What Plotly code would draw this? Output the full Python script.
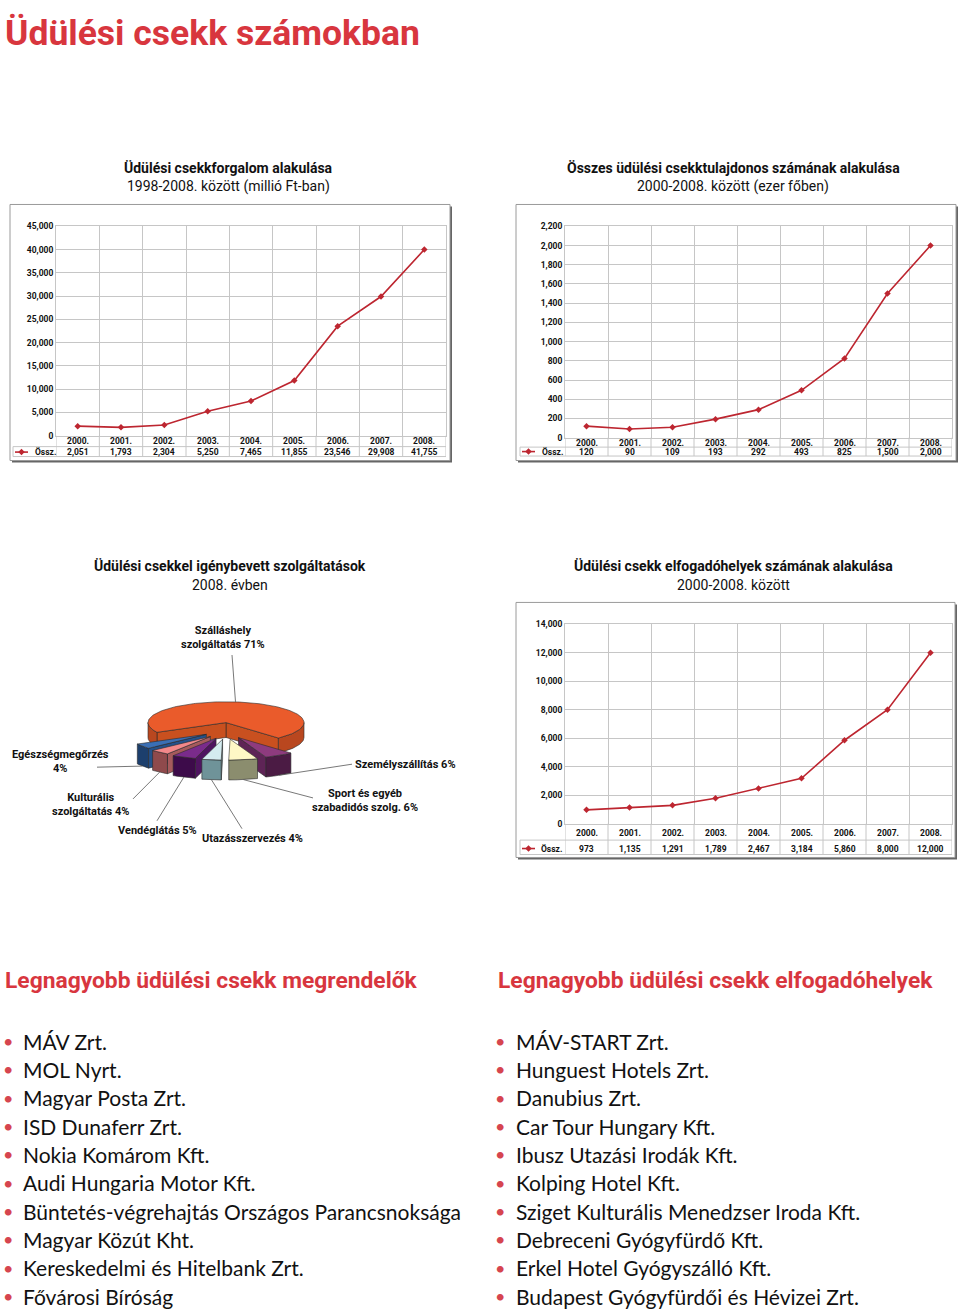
import math
import plotly.graph_objects as go

# ---------------- data ----------------
years = [2000, 2001, 2002, 2003, 2004, 2005, 2006, 2007, 2008]
year_labels = [f"{y}." for y in years]

# Üdülési csekkforgalom (millió Ft) - plotted points and printed table values
turnover_plotted = [2051, 1793, 2304, 5250, 7465, 11855, 23546, 29908, 40000]
turnover_table = [2051, 1793, 2304, 5250, 7465, 11855, 23546, 29908, 41755]

# Összes üdülési csekktulajdonos (ezer fő)
holders = [120, 90, 109, 193, 292, 493, 825, 1500, 2000]

# Elfogadóhelyek száma
acceptors = [973, 1135, 1291, 1789, 2467, 3184, 5860, 8000, 12000]

# Igénybevett szolgáltatások 2008 (%)
service_names = ["Egészségmegőrzés", "Kulturális szolgáltatás", "Vendéglátás",
                 "Utazásszervezés", "Sport és egyéb szabadidós szolg.",
                 "Személyszállítás", "Szálláshely szolgáltatás"]
service_pct = [4, 4, 5, 4, 6, 6, 71]
service_label_prefix = ["Egészségmegőrzés<br>", "Kulturális<br>szolgáltatás ", "Vendéglátás ",
                        "Utazásszervezés ", "Sport és egyéb<br>szabadidós szolg. ",
                        "Személyszállítás ", "Szálláshely<br>szolgáltatás "]

orderers = ["MÁV Zrt.", "MOL Nyrt.", "Magyar Posta Zrt.", "ISD Dunaferr Zrt.",
            "Nokia Komárom Kft.", "Audi Hungaria Motor Kft.",
            "Büntetés-végrehajtás Országos Parancsnoksága", "Magyar Közút Kht.",
            "Kereskedelmi és Hitelbank Zrt.", "Fővárosi Bíróság"]
accepting_places = ["MÁV-START Zrt.", "Hunguest Hotels Zrt.", "Danubius Zrt.",
                    "Car Tour Hungary Kft.", "Ibusz Utazási Irodák Kft.", "Kolping Hotel Kft.",
                    "Sziget Kulturális Menedzser Iroda Kft.", "Debreceni Gyógyfürdő Kft.",
                    "Erkel Hotel Gyógyszálló Kft.", "Budapest Gyógyfürdői és Hévizei Zrt."]

# ---------------- style ----------------
W, HP = 960, 1316
COND = 'Roboto, "Liberation Sans", sans-serif'
LIST_FONT = 'Lato, "Open Sans", sans-serif'
RED = "#D8363E"
LINE_RED = "#BD2630"
GRID = "#C6C6C6"
TXT = "#111111"


def fx(p):
    return p / W


def fy(p):
    return 1 - p / HP


fig = go.Figure()
annotations = []
shapes = []

# ---------------- line charts ----------------
charts = [
    dict(n="", values=turnover_plotted, table=turnover_table, ymax=45000, dtick=5000,
         box=(10, 201, 450, 459), plot=(56, 223, 446, 434), rows=(439.5, 445, 450.5, 455),
         legend=(13, 15, 28, 33),
         title="Üdülési csekkforgalom alakulása", sub="1998-2008. között (millió Ft-ban)",
         tx=228, ty=(164, 183)),
    dict(n="2", values=holders, table=holders, ymax=2200, dtick=200,
         box=(516, 201, 956, 459), plot=(565, 223, 952, 436), rows=(441, 445.5, 450, 454.5),
         legend=(520, 522, 535, 540),
         title="Összes üdülési csekktulajdonos számának alakulása", sub="2000-2008. között (ezer főben)",
         tx=733, ty=(164, 183)),
    dict(n="3", values=acceptors, table=acceptors, ymax=14000, dtick=2000,
         box=(516, 602, 955, 859), plot=(565, 624, 952, 825), rows=(834, 841.5, 850, 856),
         legend=(520, 522, 535, 539),
         title="Üdülési csekk elfogadóhelyek számának alakulása", sub="2000-2008. között",
         tx=733, ty=(565, 584)),
]

SMALL = dict(family=COND, size=8.5, color=TXT, weight="bold")

layout_axes = {}
for c in charts:
    n = c["n"]
    x0, y0, x1, y1 = c["plot"]
    bx0, by0, bx1, by1 = c["box"]
    # shadow + box
    shapes.append(dict(type="rect", xref="paper", yref="paper", x0=fx(bx0 + 2), x1=fx(bx1 + 2),
                       y0=fy(by1 + 2), y1=fy(by0 + 2), fillcolor="#666666", line=dict(width=0),
                       layer="below"))
    shapes.append(dict(type="rect", xref="paper", yref="paper", x0=fx(bx0), x1=fx(bx1),
                       y0=fy(by1), y1=fy(by0), fillcolor="white", line=dict(color="#9A9A9A", width=1),
                       layer="below"))
    fig.add_trace(go.Scatter(x=year_labels, y=c["values"], mode="lines+markers",
                             line=dict(color=LINE_RED, width=1.6),
                             marker=dict(symbol="diamond", size=5, color=LINE_RED),
                             xaxis="x" + n, yaxis="y" + n, hoverinfo="skip"))
    layout_axes["xaxis" + n] = dict(domain=[fx(x0), fx(x1)], type="category", range=[-0.5, 8.5],
                                    tickson="boundaries", showgrid=True, gridcolor=GRID, gridwidth=1,
                                    showticklabels=False, ticks="", showline=True, mirror=True,
                                    linecolor=GRID, zeroline=False, anchor="y" + n, fixedrange=True)
    layout_axes["yaxis" + n] = dict(domain=[fy(y1), fy(y0)], range=[0, c["ymax"]], dtick=c["dtick"],
                                    tickformat=",", showgrid=True, gridcolor=GRID, gridwidth=1,
                                    showline=True, mirror=True, linecolor=GRID, zeroline=False,
                                    ticks="", anchor="x" + n, fixedrange=True, tickfont=SMALL)
    r_year, r_sep, r_val, r_bot = c["rows"]
    # table lines
    for k in range(10):
        shapes.append(dict(type="line", xref="x" + n, yref="paper", x0=k - 0.5, x1=k - 0.5,
                           y0=fy(y1), y1=fy(r_bot), line=dict(color=GRID, width=1)))
    lx, l0, l1, ltx = c["legend"]
    for yy in (r_sep, r_bot):
        shapes.append(dict(type="line", xref="paper", yref="paper", x0=fx(lx), x1=fx(x1),
                           y0=fy(yy), y1=fy(yy), line=dict(color=GRID, width=1)))
    shapes.append(dict(type="line", xref="paper", yref="paper", x0=fx(lx), x1=fx(lx),
                       y0=fy(r_sep), y1=fy(r_bot), line=dict(color=GRID, width=1)))
    # table text (column centres follow the category slots of the axis domain)
    ncat = len(year_labels)
    for k, (lab, v) in enumerate(zip(year_labels, c["table"])):
        xc = x0 + (k + 0.5) * (x1 - x0) / ncat
        annotations.append(dict(x=fx(xc), y=fy(r_year), xref="paper", yref="paper", text=lab,
                                showarrow=False, font=SMALL, xanchor="center", yanchor="middle"))
        annotations.append(dict(x=fx(xc), y=fy(r_val), xref="paper", yref="paper", text=f"{v:,}",
                                showarrow=False, font=SMALL, xanchor="center", yanchor="middle"))
    # legend cell
    fig.add_trace(go.Scatter(x=[l0, (l0 + l1) / 2, l1], y=[-r_val] * 3, mode="lines",
                             line=dict(color=LINE_RED, width=1.6), xaxis="x4", yaxis="y4",
                             hoverinfo="skip"))
    fig.add_trace(go.Scatter(x=[(l0 + l1) / 2], y=[-r_val], mode="markers",
                             marker=dict(symbol="diamond", size=5, color=LINE_RED), xaxis="x4", yaxis="y4",
                             hoverinfo="skip"))
    annotations.append(dict(x=fx(ltx), y=fy(r_val), xref="paper", yref="paper", text="Össz.",
                            showarrow=False, font=SMALL, xanchor="left", yanchor="middle"))
    # titles
    annotations.append(dict(x=fx(c["tx"]), y=fy(c["ty"][0]), xref="paper", yref="paper", text=c["title"],
                            showarrow=False, font=dict(family=COND, size=14, color=TXT, weight="bold"),
                            xanchor="center", yanchor="middle"))
    annotations.append(dict(x=fx(c["tx"]), y=fy(c["ty"][1]), xref="paper", yref="paper", text=c["sub"],
                            showarrow=False, font=dict(family=COND, size=14, color=TXT),
                            xanchor="center", yanchor="middle"))

# ---------------- pseudo-3D pie (pixel coordinate overlay axis) ----------------
PIE_CX, PIE_CY, PIE_A, PIE_B = 226, 728, 78, 21
PIE_START = 207.8
EXPLODE_SMALL = (24, 12)
EXPLODE_BIG = (0, 5)
WALL_SMALL, WALL_BIG = 20, 15
top_colors = ["#3A6FB5", "#F2888A", "#7A2B8B", "#D4ECF0", "#FFF8C6", "#8E3B7E", "#EA5B2B"]
wall_colors = ["#1C3F6D", "#8F4A4C", "#3D0B4A", "#6F9399", "#8B8D6E", "#4B1B44", "#B9471F"]
cut_colors = ["#24518A", "#A65A5C", "#4F1460", "#86A9AE", "#A3A483", "#5E2456", "#C9501F"]
OUTLINE = dict(color="#2A2A2A", width=0.6)


def ell(t_deg, ox, oy, dy=0.0):
    t = math.radians(t_deg)
    return (PIE_CX + ox + PIE_A * math.cos(t), PIE_CY + oy - PIE_B * math.sin(t) + dy)


def arc(t0, t1, ox, oy, dy=0.0):
    n = max(2, int(abs(t1 - t0) / 1.5) + 1)
    return [ell(t0 + (t1 - t0) * k / (n - 1), ox, oy, dy) for k in range(n)]


def poly(pts, color):
    xs = [p[0] for p in pts] + [pts[0][0]]
    ys = [-p[1] for p in pts] + [-pts[0][1]]
    fig.add_trace(go.Scatter(x=xs, y=ys, mode="lines", fill="toself", fillcolor=color,
                             line=OUTLINE, xaxis="x4", yaxis="y4", hoverinfo="skip"))


total = sum(service_pct)
big_idx = service_pct.index(max(service_pct))
geo = []
cum = 0
for i, p in enumerate(service_pct):
    t0 = PIE_START + cum / total * 360
    t1 = t0 + p / total * 360
    cum += p
    mid = (t0 + t1) / 2
    ex, ey = EXPLODE_BIG if i == big_idx else EXPLODE_SMALL
    ox = ex * math.cos(math.radians(mid))
    oy = -ey * math.sin(math.radians(mid))
    hh = WALL_BIG if i == big_idx else WALL_SMALL
    geo.append((i, t0, t1, mid, ox, oy, hh))

order = [g for g in geo if g[0] == big_idx] + sorted(
    [g for g in geo if g[0] != big_idx], key=lambda g: -abs(math.cos(math.radians(g[3]))))

for i, t0, t1, mid, ox, oy, hh in order:
    apex = (PIE_CX + ox, PIE_CY + oy)
    apex_b = (apex[0], apex[1] + hh)
    if math.cos(math.radians(t0)) > 0:
        e = ell(t0, ox, oy)
        poly([apex, e, (e[0], e[1] + hh), apex_b], cut_colors[i])
    if math.cos(math.radians(t1)) < 0:
        e = ell(t1, ox, oy)
        poly([apex, e, (e[0], e[1] + hh), apex_b], cut_colors[i])
    for k in range(0, 3):
        f0, f1 = 180 + 360 * k, 360 + 360 * k
        a0, a1 = max(t0, f0), min(t1, f1)
        if a1 > a0:
            top = arc(a0, a1, ox, oy)
            bot = arc(a1, a0, ox, oy, hh)
            poly(top + bot, wall_colors[i])
    poly([apex] + arc(t0, t1, ox, oy), top_colors[i])

# labels and leader lines (label positions in px)
label_pos = [(60, 762, "center"), (90, 806, "center"), (157, 832, "center"), (252, 840, "center"),
             (365, 802, "center"), (353, 765, "left"), (223, 637, "center")]
leader_end = [(97, 768), (133, 800), (157, 822), (242, 830), (313, 799), (352, 765), (232, 655)]
for i, t0, t1, mid, ox, oy, hh in geo:
    if i == big_idx:
        ax_, ay_ = ell(mid + 3, ox, oy)
    else:
        ax_, ay_ = ell(mid, ox, oy, hh)
    lx_, ly_ = leader_end[i]
    fig.add_trace(go.Scatter(x=[ax_, lx_], y=[-ay_, -ly_], mode="lines",
                             line=dict(color="#555555", width=0.8), xaxis="x4", yaxis="y4",
                             hoverinfo="skip"))
    px_, py_, anc = label_pos[i]
    annotations.append(dict(x=fx(px_), y=fy(py_), xref="paper", yref="paper",
                            text=f"{service_label_prefix[i]}{service_pct[i]}%", showarrow=False,
                            align="center", xanchor=anc, yanchor="middle",
                            font=dict(family=COND, size=11, color=TXT, weight="bold")))

annotations.append(dict(x=fx(230), y=fy(565), xref="paper", yref="paper",
                        text="Üdülési csekkel igénybevett szolgáltatások", showarrow=False,
                        font=dict(family=COND, size=14, color=TXT, weight="bold"),
                        xanchor="center", yanchor="middle"))
annotations.append(dict(x=fx(230), y=fy(584), xref="paper", yref="paper", text="2008. évben",
                        showarrow=False, font=dict(family=COND, size=14, color=TXT),
                        xanchor="center", yanchor="middle"))

# ---------------- page texts ----------------
annotations.append(dict(x=fx(3), y=fy(28), xref="paper", yref="paper", text="Üdülési csekk számokban",
                        showarrow=False, xanchor="left", yanchor="middle",
                        font=dict(family=COND, size=35.5, color=RED, weight="bold")))
annotations.append(dict(x=fx(3), y=fy(983), xref="paper", yref="paper",
                        text="Legnagyobb üdülési csekk megrendelők", showarrow=False,
                        xanchor="left", yanchor="middle",
                        font=dict(family=COND, size=22.8, color=RED, weight="bold")))
annotations.append(dict(x=fx(496), y=fy(983), xref="paper", yref="paper",
                        text="Legnagyobb üdülési csekk elfogadóhelyek", showarrow=False,
                        xanchor="left", yanchor="middle",
                        font=dict(family=COND, size=22.8, color=RED, weight="bold")))

LIST_Y0, LIST_DY = 1044, 28.56
for col_items, bx, tx in ((orderers, 8, 21), (accepting_places, 500, 514)):
    for k, item in enumerate(col_items):
        yy = LIST_Y0 + k * LIST_DY
        annotations.append(dict(x=fx(bx), y=fy(yy), xref="paper", yref="paper", text="•",
                                showarrow=False, xanchor="center", yanchor="middle",
                                font=dict(family=LIST_FONT, size=18, color="#D6454F")))
        annotations.append(dict(x=fx(tx), y=fy(yy), xref="paper", yref="paper", text=item,
                                showarrow=False, xanchor="left", yanchor="middle",
                                font=dict(family=LIST_FONT, size=21, color=TXT)))

layout_axes["xaxis4"] = dict(domain=[0, 1], range=[0, W], visible=False, fixedrange=True, anchor="y4")
layout_axes["yaxis4"] = dict(domain=[0, 1], range=[-HP, 0], visible=False, fixedrange=True, anchor="x4")

fig.update_layout(width=W, height=HP, margin=dict(l=0, r=0, t=0, b=0),
                  paper_bgcolor="white", plot_bgcolor="rgba(0,0,0,0)", showlegend=False,
                  annotations=annotations, shapes=shapes, **layout_axes)

fig.write_html("out.html", config={"displayModeBar": False},
               post_script="document.body.style.margin='0px';")
